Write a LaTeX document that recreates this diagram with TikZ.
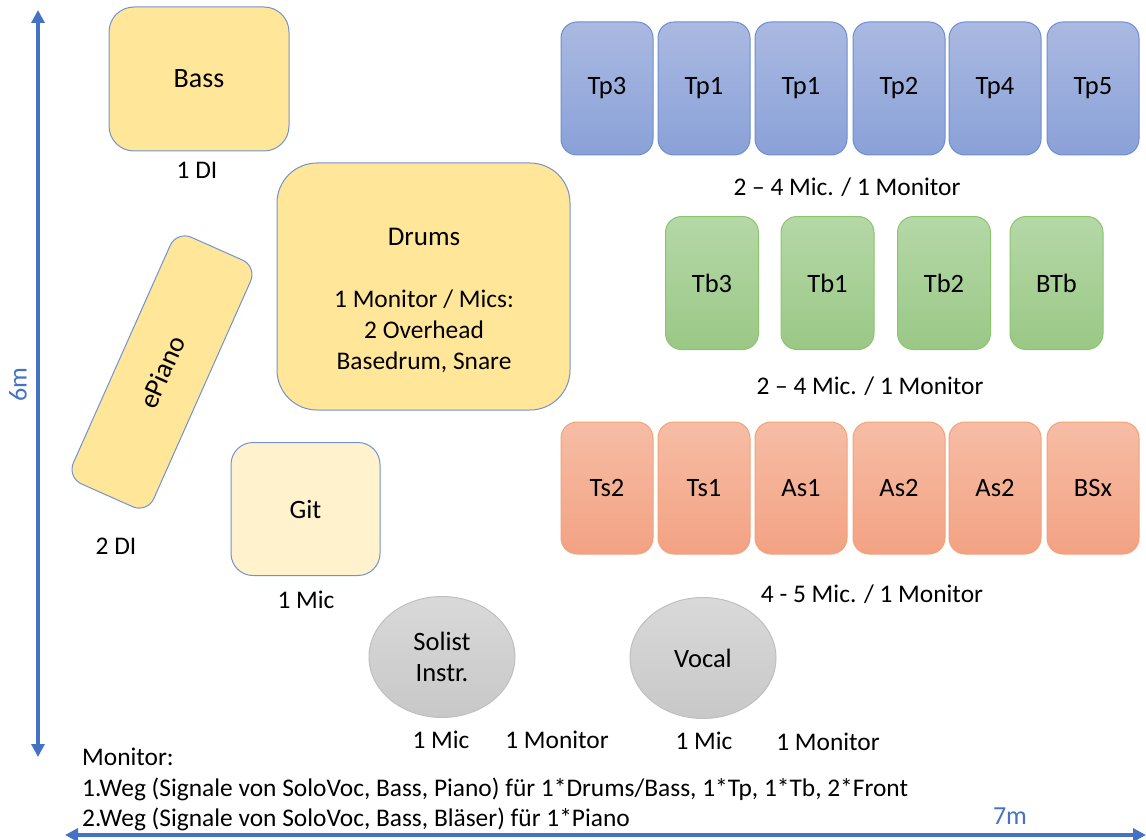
\documentclass[tikz,border=0pt]{standalone}
\usepackage{fontspec}
\setmainfont{Carlito}
\usetikzlibrary{arrows.meta,shapes.geometric}
\definecolor{axisblue}{HTML}{4472C4}
\definecolor{edgeblue}{HTML}{7293CF}
\definecolor{yfill}{HTML}{FFE699}
\definecolor{gfill}{HTML}{FFF2CC}
\definecolor{tpTop}{HTML}{AAB9E1}
\definecolor{tpBot}{HTML}{8AA1D8}
\definecolor{tpEdge}{HTML}{6C8DD3}
\definecolor{tbTop}{HTML}{B5D8A7}
\definecolor{tbBot}{HTML}{9AC886}
\definecolor{tbEdge}{HTML}{8CC46E}
\definecolor{sxTop}{HTML}{F6BDA5}
\definecolor{sxBot}{HTML}{F3A283}
\definecolor{sxEdge}{HTML}{F2A278}
\definecolor{elTop}{HTML}{D9D9D9}
\definecolor{elBot}{HTML}{C8C8C8}
\definecolor{elEdge}{HTML}{BFBFBF}
\newcommand{\labfont}{\fontsize{26.5}{31}\selectfont}
\newcommand{\capfont}{\fontsize{25.4}{30}\selectfont}
\begin{document}
\begin{tikzpicture}[x=1pt,y=-1pt,
  every node/.style={font=\capfont, inner sep=0pt},
  ybox/.style={rectangle, rounded corners=#1, draw=edgeblue, line width=1pt, fill=yfill, align=center, font=\labfont},
  tpbox/.style={rectangle, rounded corners=16pt, minimum width=92pt, minimum height=133pt,
    top color=tpTop, bottom color=tpBot, draw=tpEdge, line width=1pt, font=\labfont},
  tbbox/.style={rectangle, rounded corners=16pt, minimum width=93pt, minimum height=133pt,
    top color=tbTop, bottom color=tbBot, draw=tbEdge, line width=1pt, font=\labfont},
  sxbox/.style={rectangle, rounded corners=16pt, minimum width=92pt, minimum height=132pt,
    top color=sxTop, bottom color=sxBot, draw=sxEdge, line width=1pt, font=\labfont},
  solo/.style={ellipse, minimum width=146pt, minimum height=121pt, top color=elTop, bottom color=elBot,
    draw=elEdge, line width=1pt, align=center, font=\labfont},
  caption/.style={font=\capfont},
  axis/.style={draw=axisblue, line width=3.2pt,
    {Triangle[width=13pt,length=13pt]}-{Triangle[width=13pt,length=13pt]}},
  axislabel/.style={text=axisblue, font=\fontsize{26}{30}\selectfont}
]
\useasboundingbox (0,0) rectangle (1146,840);

% dimension arrows
\coordinate (vtop) at (38,10);
\coordinate (vbot) at (38,757);
\coordinate (hleft) at (65,835);
\coordinate (hright) at (1146,835);
\draw[axis] (vtop) -- (vbot);
\draw[axis] (hleft) -- (hright);
\node[axislabel, rotate=90] (sixm) at (18,385) {6m};
\node[axislabel] (sevenm) at (1010,816) {7m};

% rhythm section
\node[ybox=25pt, minimum width=180pt, minimum height=144pt, font=\fontsize{28}{32}\selectfont] (bass) at (199,79) {Bass};
\node[caption] (bassdi) at (197,170) {1 DI};
\node[ybox=40pt, minimum width=293pt, minimum height=247pt] (drums) at (423.5,286.5) {};
\node[align=center, font=\fontsize{25.4}{31}\selectfont] (drumstext) at (424,300)
  {\fontsize{27}{31}\selectfont Drums\\\mbox{}\\1 Monitor / Mics:\\2 Overhead\\Basedrum, Snare};
\node[ybox=16pt, minimum width=270pt, minimum height=88pt, rotate=66, font=\fontsize{27.5}{32}\selectfont] (epiano) at (162,372) {ePiano};
\node[caption] (epdi) at (116,546) {2 DI};
\node[ybox=22pt, fill=gfill, minimum width=149pt, minimum height=133pt] (git) at (305.5,509) {Git};
\node[caption] (gitmic) at (306,600) {1 Mic};

% trumpets
\node[tpbox] (tp3) at (607,88.5) {Tp3};
\node[tpbox] (tp1a) at (704,88.5) {Tp1};
\node[tpbox] (tp1b) at (801,88.5) {Tp1};
\node[tpbox] (tp2) at (899,88.5) {Tp2};
\node[tpbox] (tp4) at (995,88.5) {Tp4};
\node[tpbox] (tp5) at (1093,88.5) {Tp5};
\node[caption] (tpcap) at (847,187) {2 -- 4 Mic. / 1 Monitor};

% trombones
\node[tbbox] (tb3) at (712,283) {Tb3};
\node[tbbox] (tb1) at (827.5,283) {Tb1};
\node[tbbox] (tb2) at (944,283) {Tb2};
\node[tbbox] (btb) at (1056.5,283) {BTb};
\node[caption] (tbcap) at (870,386) {2 -- 4 Mic. / 1 Monitor};

% saxes
\node[sxbox] (ts2) at (607,488) {Ts2};
\node[sxbox] (ts1) at (704,488) {Ts1};
\node[sxbox] (as1) at (801,488) {As1};
\node[sxbox] (as2a) at (899,488) {As2};
\node[sxbox] (as2b) at (995,488) {As2};
\node[sxbox] (bsx) at (1093,488) {BSx};
\node[caption] (sxcap) at (872,594) {4 - 5 Mic. / 1 Monitor};

% soloists
\node[solo] (solist) at (442,657) {Solist\\Instr.};
\node[solo] (vocal) at (703,658) {Vocal};
\node[caption] (solmic) at (441,740) {1 Mic};
\node[caption] (solmon) at (557,740) {1 Monitor};
\node[caption] (vocmic) at (704,741) {1 Mic};
\node[caption] (vocmon) at (828,742) {1 Monitor};

% monitor notes
\node[caption, anchor=base west] (mon0) at (82,765) {Monitor:};
\node[caption, anchor=base west] (mon1) at (82,796) {1.Weg (Signale von SoloVoc, Bass, Piano) für 1*Drums/Bass, 1*Tp, 1*Tb, 2*Front};
\node[caption, anchor=base west] (mon2) at (82,826) {2.Weg (Signale von SoloVoc, Bass, Bläser) für 1*Piano};
\end{tikzpicture}
\end{document}
